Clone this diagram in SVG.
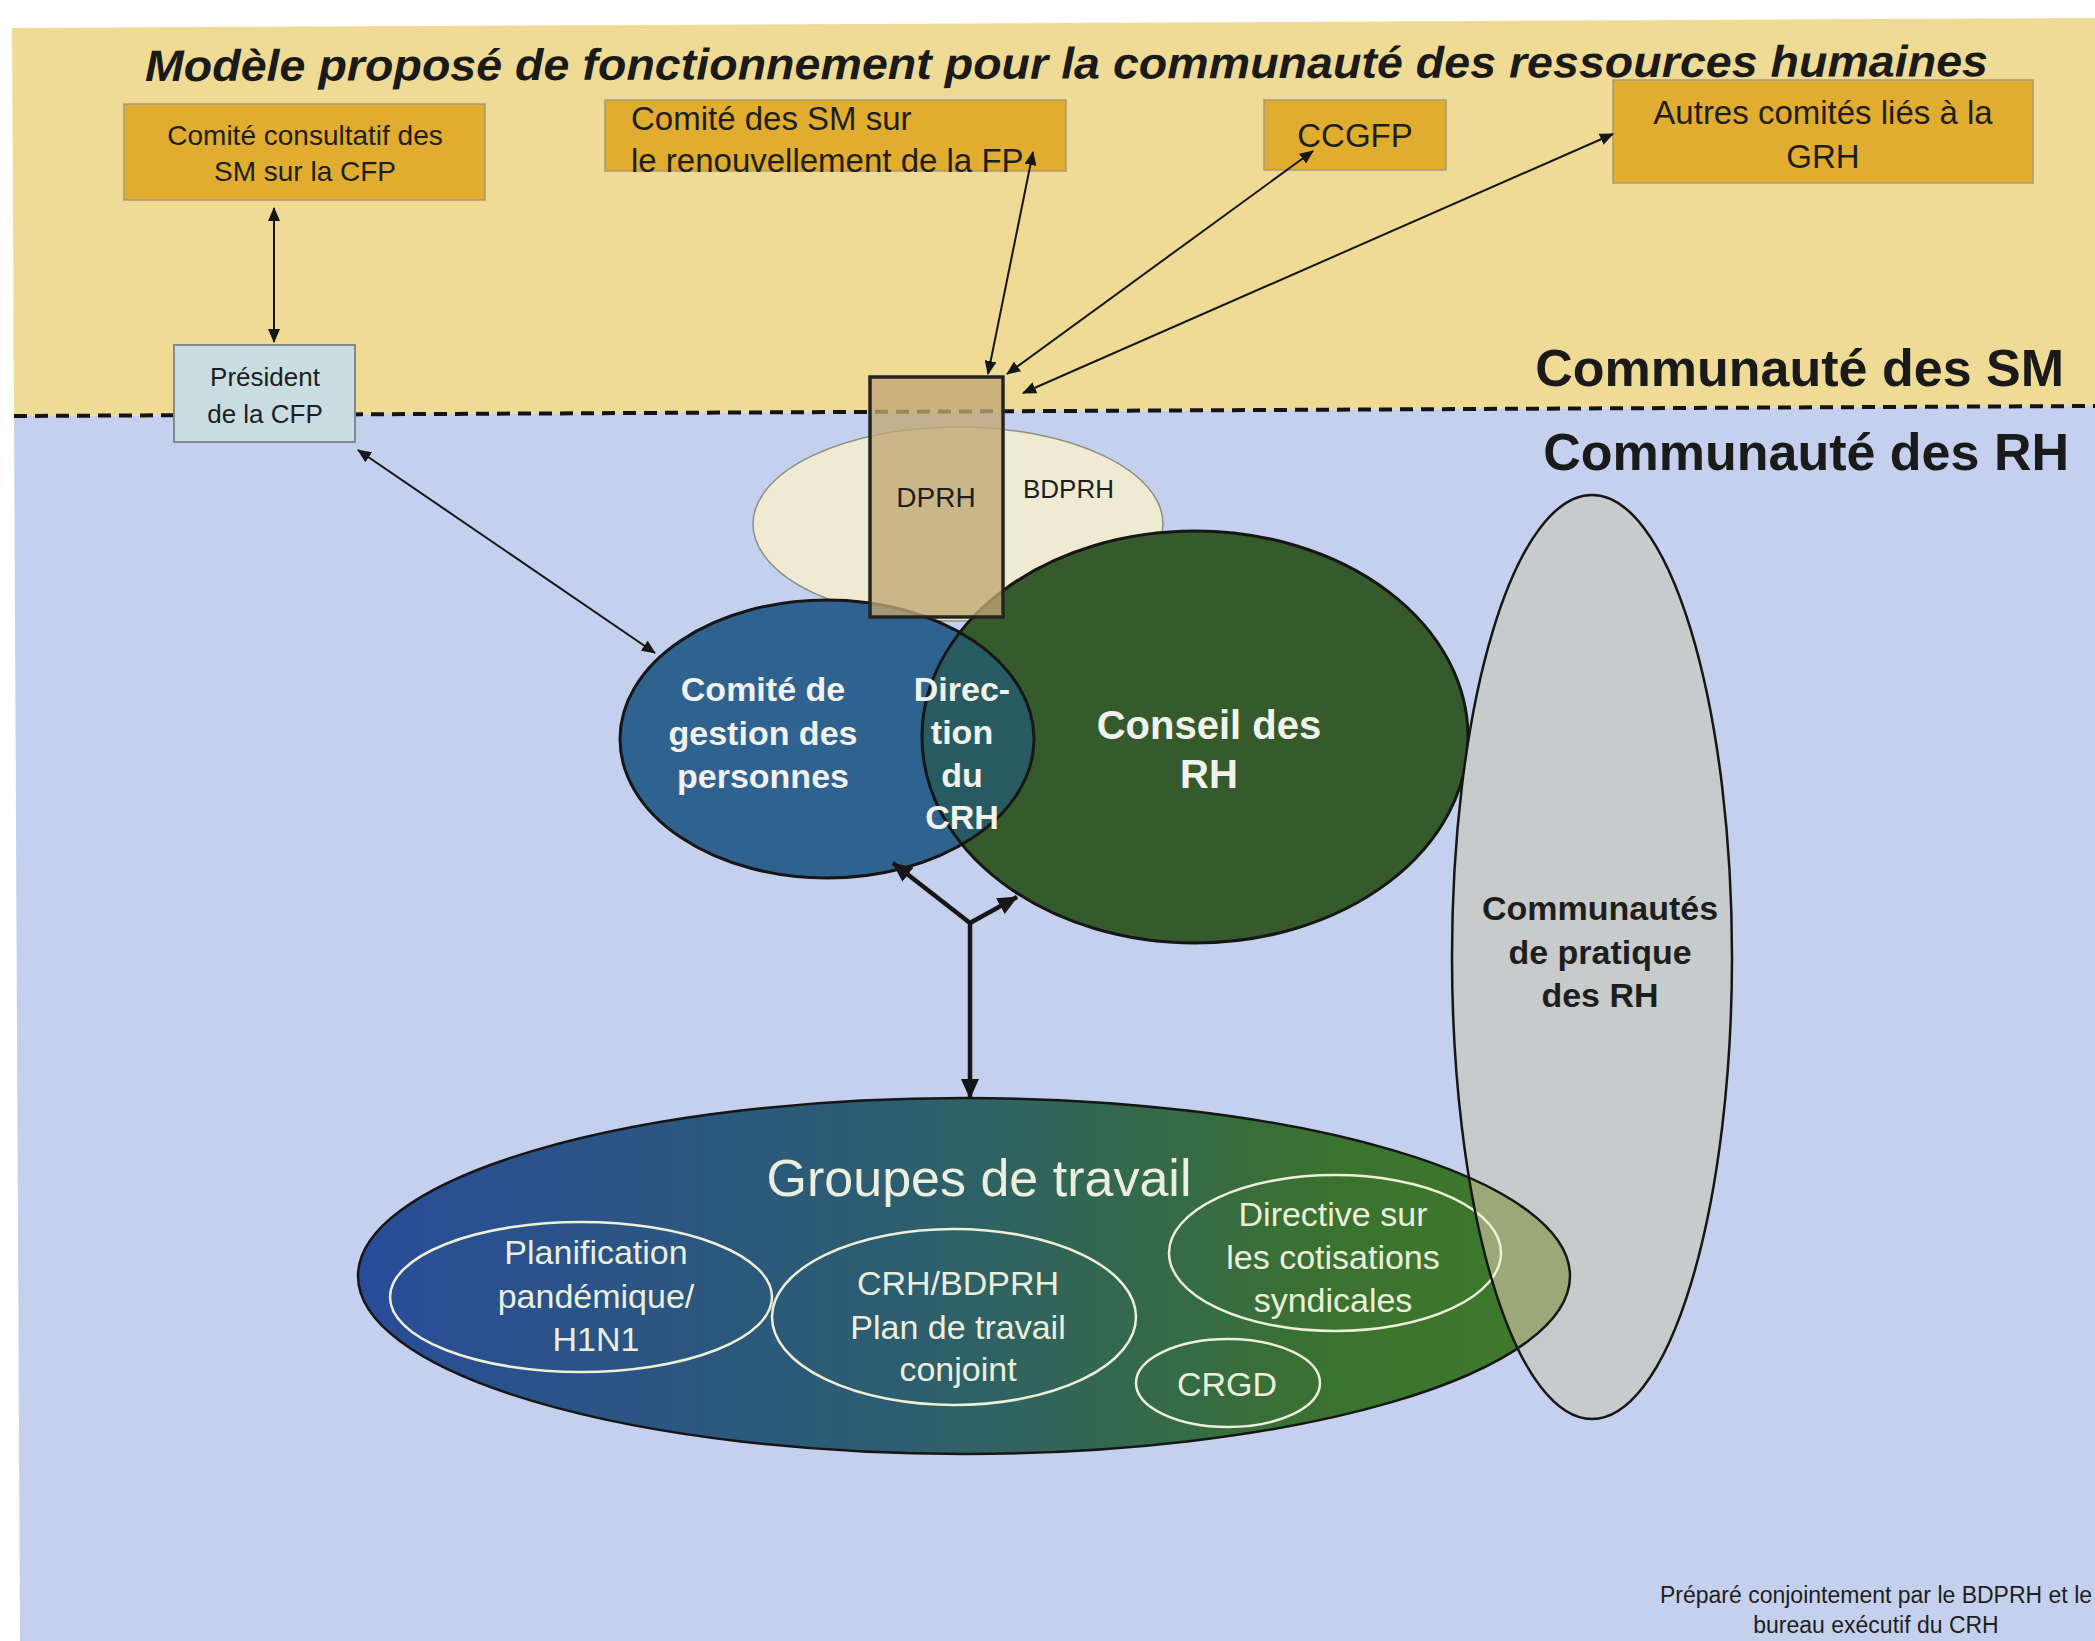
<svg xmlns="http://www.w3.org/2000/svg" width="2095" height="1641" viewBox="0 0 2095 1641">
  <defs>
    <style>
      .sans { font-family: "Liberation Sans", Arial, sans-serif; }
      .box { fill: #E1AD31; stroke: #A89C78; stroke-width: 1.5; }
      .boxtxt { font-family: "Liberation Sans", Arial, sans-serif; fill: #1e1e1e; }
      .dark { stroke: #161616; fill: none; }
      .conn { stroke: #161616; stroke-width: 2; fill: none; }
      .connbig { stroke: #161616; stroke-width: 4.5; fill: none; }
      .wlbl { font-family: "Liberation Sans", Arial, sans-serif; fill: #F2F2EC; font-weight: bold; text-anchor: middle; }
      .inner { fill: none; stroke: #EEF0D8; stroke-width: 2.5; }
      .innertxt { font-family: "Liberation Sans", Arial, sans-serif; fill: #ECEFDD; text-anchor: middle; }
      .community { font-family: "Liberation Sans", Arial, sans-serif; font-weight: bold; fill: #1a1a1a; text-anchor: end; }
    </style>
    <marker id="ah" viewBox="0 0 14 12" refX="13" refY="6" markerWidth="14" markerHeight="12" markerUnits="userSpaceOnUse" orient="auto-start-reverse">
      <path d="M0,0 L14,6 L0,12 z" fill="#161616"/>
    </marker>
    <marker id="ahBig" viewBox="0 0 20 18" refX="19" refY="9" markerWidth="20" markerHeight="18" markerUnits="userSpaceOnUse" orient="auto-start-reverse">
      <path d="M0,0 L20,9 L0,18 z" fill="#161616"/>
    </marker>
    <linearGradient id="groupesGrad" x1="358" y1="0" x2="1570" y2="0" gradientUnits="userSpaceOnUse">
      <stop offset="0" stop-color="#294C98"/>
      <stop offset="0.45" stop-color="#2C5E70"/>
      <stop offset="0.8" stop-color="#3A722F"/>
      <stop offset="1" stop-color="#3F7B2B"/>
    </linearGradient>
    <clipPath id="clipConseil">
      <ellipse cx="1195" cy="737" rx="273" ry="206"/>
    </clipPath>
    <clipPath id="clipPratique">
      <ellipse cx="1592" cy="957" rx="140" ry="462"/>
    </clipPath>
  </defs>

  <!-- page and the two zones -->
  <rect x="0" y="0" width="2095" height="1641" fill="#FFFFFF"/>
  <polygon points="12,28 2095,18 2095,406 14,416" fill="#EFDB96"/>
  <polygon points="14,416 2095,406 2095,1641 20,1641" fill="#C4D0EE"/>
  <line x1="14" y1="416" x2="2095" y2="406" stroke="#141414" stroke-width="4" stroke-dasharray="13 8"/>

  <!-- headings -->
  <text class="sans" x="145" y="81" font-size="44" font-weight="bold" font-style="italic" fill="#1a1a1a" textLength="1843" lengthAdjust="spacingAndGlyphs" transform="rotate(-0.15 145 81)">Modèle proposé de fonctionnement pour la communauté des ressources humaines</text>
  <text class="community" x="2064" y="386" font-size="52">Communauté des SM</text>
  <text class="community" x="2069" y="470" font-size="52">Communauté des RH</text>

  <!-- committees of the SM community -->
  <g id="comite-consultatif">
    <rect class="box" x="124" y="104" width="361" height="96"/>
    <text class="boxtxt" x="305" y="145" font-size="28" text-anchor="middle">Comité consultatif des</text>
    <text class="boxtxt" x="305" y="181" font-size="28" text-anchor="middle">SM sur la CFP</text>
  </g>
  <g id="comite-renouvellement">
    <rect class="box" x="605" y="100" width="461" height="71"/>
    <text class="boxtxt" x="631" y="130" font-size="33">Comité des SM sur</text>
    <text class="boxtxt" x="631" y="172" font-size="33">le renouvellement de la FP</text>
  </g>
  <g id="ccgfp">
    <rect class="box" x="1264" y="100" width="182" height="70"/>
    <text class="boxtxt" x="1355" y="147" font-size="33" text-anchor="middle">CCGFP</text>
  </g>
  <g id="autres-comites">
    <rect class="box" x="1613" y="80" width="420" height="103"/>
    <text class="boxtxt" x="1823" y="124" font-size="33" text-anchor="middle">Autres comités liés à la</text>
    <text class="boxtxt" x="1823" y="168" font-size="33" text-anchor="middle">GRH</text>
  </g>
  <g id="president-cfp">
    <rect x="174" y="345" width="181" height="97" fill="#C9DDE3" stroke="#7E8A8C" stroke-width="2"/>
    <text class="boxtxt" x="265" y="386" font-size="26" text-anchor="middle">Président</text>
    <text class="boxtxt" x="265" y="423" font-size="26" text-anchor="middle">de la CFP</text>
  </g>

  <!-- HR community core -->
  <g id="bdprh">
    <ellipse cx="958" cy="524" rx="205" ry="97" fill="#EEEBD2" stroke="#8E8E84" stroke-width="1.5"/>
    <text class="boxtxt" x="1023" y="498" font-size="26">BDPRH</text>
  </g>
  <g id="conseil-rh">
    <ellipse cx="1195" cy="737" rx="273" ry="206" fill="#355A2C"/>
  </g>
  <g id="comite-gestion">
    <ellipse cx="827" cy="739" rx="207" ry="139" fill="#30628F"/>
  </g>
  <g id="direction-crh">
    <ellipse cx="827" cy="739" rx="207" ry="139" fill="#285A62" clip-path="url(#clipConseil)"/>
  </g>
  <ellipse class="dark" cx="1195" cy="737" rx="273" ry="206" stroke-width="3"/>
  <ellipse class="dark" cx="827" cy="739" rx="207" ry="139" stroke-width="3"/>
  <g id="dprh">
    <rect x="870" y="377" width="133" height="240" fill="#C2A775" fill-opacity="0.78" stroke="#262420" stroke-width="3.5"/>
    <text class="boxtxt" x="936" y="507" font-size="28" text-anchor="middle">DPRH</text>
  </g>
  <text class="wlbl" font-size="34"><tspan x="763" y="701">Comité de</tspan><tspan x="763" y="745">gestion des</tspan><tspan x="763" y="788">personnes</tspan></text>
  <text class="wlbl" font-size="34"><tspan x="962" y="701">Direc-</tspan><tspan x="962" y="744">tion</tspan><tspan x="962" y="787">du</tspan><tspan x="962" y="829">CRH</tspan></text>
  <text class="wlbl" font-size="40"><tspan x="1209" y="739">Conseil des</tspan><tspan x="1209" y="788">RH</tspan></text>

  <!-- communities of practice and working groups -->
  <g id="communautes-pratique">
    <ellipse cx="1592" cy="957" rx="140" ry="462" fill="#C8CBCB"/>
    <text class="boxtxt" font-weight="bold" font-size="34" text-anchor="middle"><tspan x="1600" y="920">Communautés</tspan><tspan x="1600" y="964">de pratique</tspan><tspan x="1600" y="1007">des RH</tspan></text>
  </g>
  <g id="groupes-travail">
    <ellipse cx="964" cy="1276" rx="606" ry="178" fill="url(#groupesGrad)"/>
    <ellipse cx="964" cy="1276" rx="606" ry="178" fill="#9DA878" clip-path="url(#clipPratique)"/>
    <text class="innertxt" x="979" y="1196" font-size="52">Groupes de travail</text>
    <g id="planification">
      <ellipse class="inner" cx="581" cy="1297" rx="191" ry="75"/>
      <text class="innertxt" font-size="34"><tspan x="596" y="1264">Planification</tspan><tspan x="596" y="1308">pandémique/</tspan><tspan x="596" y="1351">H1N1</tspan></text>
    </g>
    <g id="plan-travail">
      <ellipse class="inner" cx="954" cy="1317" rx="182" ry="88"/>
      <text class="innertxt" font-size="34"><tspan x="958" y="1295">CRH/BDPRH</tspan><tspan x="958" y="1339">Plan de travail</tspan><tspan x="958" y="1381">conjoint</tspan></text>
    </g>
    <g id="directive">
      <ellipse class="inner" cx="1335" cy="1253" rx="166" ry="78"/>
      <text class="innertxt" font-size="34"><tspan x="1333" y="1226">Directive sur</tspan><tspan x="1333" y="1269">les cotisations</tspan><tspan x="1333" y="1312">syndicales</tspan></text>
    </g>
    <g id="crgd">
      <ellipse class="inner" cx="1228" cy="1383" rx="92" ry="44"/>
      <text class="innertxt" x="1227" y="1396" font-size="34">CRGD</text>
    </g>
    <ellipse class="dark" cx="964" cy="1276" rx="606" ry="178" stroke-width="2.5"/>
  </g>
  <ellipse class="dark" cx="1592" cy="957" rx="140" ry="462" stroke-width="2.5"/>

  <!-- connectors -->
  <g id="connectors">
    <line class="conn" x1="274" y1="208" x2="274" y2="342" marker-start="url(#ah)" marker-end="url(#ah)"/>
    <line class="conn" x1="358" y1="450" x2="655" y2="653" marker-start="url(#ah)" marker-end="url(#ah)"/>
    <line class="conn" x1="988" y1="374" x2="1033" y2="152" marker-start="url(#ah)" marker-end="url(#ah)"/>
    <line class="conn" x1="1007" y1="374" x2="1313" y2="151" marker-start="url(#ah)" marker-end="url(#ah)"/>
    <line class="conn" x1="1023" y1="393" x2="1613" y2="134" marker-start="url(#ah)" marker-end="url(#ah)"/>
    <line class="connbig" x1="970" y1="923" x2="893" y2="863" marker-end="url(#ahBig)"/>
    <line class="connbig" x1="970" y1="923" x2="1017" y2="897" marker-end="url(#ahBig)"/>
    <line class="connbig" x1="970" y1="921" x2="970" y2="1098" marker-end="url(#ahBig)"/>
  </g>

  <!-- credit -->
  <text class="boxtxt" font-size="23" text-anchor="middle" fill="#222"><tspan x="1876" y="1603">Préparé conjointement par le BDPRH et le</tspan><tspan x="1876" y="1633">bureau exécutif du CRH</tspan></text>
</svg>
